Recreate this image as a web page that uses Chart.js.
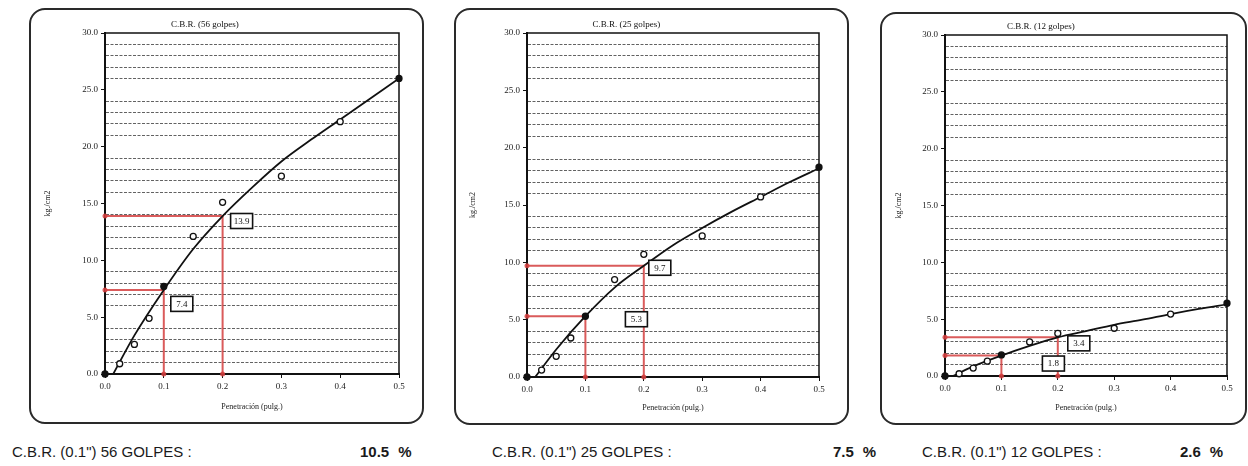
<!DOCTYPE html>
<html>
<head>
<meta charset="utf-8">
<script src="https://cdn.jsdelivr.net/npm/chart.js@4.4.0/dist/chart.umd.min.js"></script>
<style>
  html, body { margin: 0; padding: 0; background: #fff; }
  body { width: 1248px; height: 466px; position: relative; overflow: hidden; }
  .marco { position: absolute; box-sizing: border-box; border: 2px solid #2a2a2a; border-radius: 16px; }
  .lienzo { position: absolute; }
  .pie { position: absolute; font-family: "Liberation Sans", Arial, sans-serif; font-size: 15px; color: #1a1a1a; white-space: nowrap; line-height: 16px; }
  .pie b { font-weight: bold; }
</style>
</head>
<body>

<div class="marco" style="left:29px;top:8px;width:395px;height:416px"></div>
<div class="marco" style="left:454px;top:8px;width:395px;height:417px"></div>
<div class="marco" style="left:880px;top:12px;width:367px;height:413px"></div>

<canvas id="g56" class="lienzo" style="left:30px;top:8px" width="393" height="415"></canvas>
<canvas id="g25" class="lienzo" style="left:455px;top:8px" width="393" height="416"></canvas>
<canvas id="g12" class="lienzo" style="left:881px;top:12px" width="366" height="412"></canvas>

<div class="pie" id="t56" style="left:12px;top:444px"></div>
<div class="pie" id="p56" style="left:360px;top:444px"></div>
<div class="pie" id="t25" style="left:492px;top:444px"></div>
<div class="pie" id="p25" style="left:833px;top:444px"></div>
<div class="pie" id="t12" style="left:922px;top:444px"></div>
<div class="pie" id="p12" style="left:1180px;top:444px"></div>

<script>
// Ensayo CBR: lecturas de carga (kg/cm2) vs penetracion (pulg.)
const penetracion = [0, 0.025, 0.05, 0.075, 0.1, 0.15, 0.2, 0.3, 0.4, 0.5];
const carga56 = [0, 0.9, 2.6, 4.9, 7.7, 12.1, 15.1, 17.4, 22.2, 26.0];
const carga25 = [0, 0.6, 1.8, 3.4, 5.3, 8.5, 10.7, 12.3, 15.7, 18.3];
const carga12 = [0, 0.2, 0.7, 1.3, 1.85, 3.0, 3.75, 4.2, 5.45, 6.4];

// curva ajustada
const curvaX = [0.014, 0.05, 0.1, 0.15, 0.2, 0.25, 0.3, 0.35, 0.4, 0.45, 0.5];
const curva56 = [0, 3.4, 7.4, 11.0, 13.9, 16.4, 18.7, 20.6, 22.4, 24.2, 26.0];
const curva25 = [0, 2.4, 5.3, 7.8, 9.7, 11.5, 13.0, 14.4, 15.7, 17.0, 18.2];
const curva12 = [0, 0.85, 1.8, 2.65, 3.4, 3.95, 4.5, 4.95, 5.45, 5.9, 6.3];

// lecturas a 0.1" y 0.2"
const lecturaX = [0.1, 0.2];
const lectura56 = [7.4, 13.9];
const lectura25 = [5.3, 9.7];
const lectura12 = [1.8, 3.4];

const golpes = [56, 25, 12];
const cbr = ['10.5', '7.5', '2.6'];

const ROJO = 'rgba(212,62,62,0.85)';
Chart.defaults.font.family = '"Liberation Serif", "Times New Roman", serif';
Chart.defaults.color = '#222';

function xy(xs, ys) {
  return xs.map((x, i) => ({ x: x, y: ys[i] }));
}

// recuadro con el valor leido + marco superior/derecho del area
const rotulos = {
  id: 'rotulos',
  afterDatasetsDraw(chart, args, opts) {
    const { ctx, chartArea: a, scales: { x, y } } = chart;
    ctx.save();
    ctx.strokeStyle = '#111';
    ctx.lineWidth = 1.5;
    ctx.beginPath();
    ctx.moveTo(a.left, a.top);
    ctx.lineTo(a.right, a.top);
    ctx.lineTo(a.right, a.bottom);
    ctx.stroke();

    ctx.font = '9px "Liberation Serif", serif';
    ctx.textAlign = 'center';
    ctx.textBaseline = 'middle';
    ctx.fillStyle = '#111';
    ctx.fillText(opts.titulo, a.left + (a.right - a.left) * 0.34, a.top - 8);

    opts.valores.forEach((v, i) => {
      const cx = x.getPixelForValue(lecturaX[i]) + opts.desfase[i][0];
      const cy = y.getPixelForValue(v) + opts.desfase[i][1];
      ctx.fillStyle = '#fff';
      ctx.fillRect(cx - 11, cy - 7.5, 22, 15);
      ctx.lineWidth = 1.6;
      ctx.strokeStyle = '#111';
      ctx.strokeRect(cx - 11, cy - 7.5, 22, 15);
      ctx.fillStyle = '#111';
      ctx.fillText(v.toFixed(1), cx, cy + 0.5);
    });
    ctx.restore();
  }
};

function grafico(id, carga, curva, lectura, titulo, caja, desfase) {
  const guias = lectura.map((v, i) => ({
    data: [{ x: 0, y: v }, { x: lecturaX[i], y: v }, { x: lecturaX[i], y: 0 }],
    showLine: true,
    borderColor: ROJO,
    borderWidth: 2,
    pointRadius: [2.5, 0, 2.5],
    pointBackgroundColor: ROJO,
    pointBorderWidth: 0,
    clip: false,
    order: 3
  }));

  new Chart(document.getElementById(id), {
    type: 'scatter',
    data: {
      datasets: [
        {
          data: xy(penetracion, carga),
          showLine: false,
          pointRadius: 3,
          pointBorderWidth: 1.3,
          pointBorderColor: '#111',
          pointBackgroundColor: penetracion.map((p, i) => (i === 0 || p === 0.1 || p === 0.5) ? '#111' : '#fff'),
          clip: false,
          order: 0
        },
        {
          data: xy(curvaX, curva),
          showLine: true,
          borderColor: '#111',
          borderWidth: 1.8,
          pointRadius: 0,
          cubicInterpolationMode: 'monotone',
          order: 1
        },
        ...guias
      ]
    },
    options: {
      responsive: false,
      animation: false,
      events: [],
      layout: { padding: { left: 0, top: caja.top, right: caja.right, bottom: 0 } },
      plugins: {
        legend: { display: false },
        tooltip: { enabled: false },
        rotulos: { titulo: titulo, valores: lectura, desfase: desfase }
      },
      scales: {
        x: {
          type: 'linear',
          min: 0,
          max: 0.5,
          afterFit: s => { s.height = caja.bottom; },
          ticks: { stepSize: 0.1, font: { size: 9 }, padding: 3, callback: v => v.toFixed(1) },
          grid: { drawOnChartArea: false, tickLength: 4, tickColor: '#111', tickWidth: 1 },
          border: { color: '#111', width: 2 },
          title: { display: true, text: 'Penetración (pulg.)', font: { size: 8 }, padding: { top: 0, bottom: 11 } }
        },
        y: {
          min: 0,
          max: 30,
          afterFit: s => { s.width = caja.left; },
          ticks: {
            stepSize: 1,
            autoSkip: false,
            font: { size: 9 },
            padding: 3,
            callback: v => (Math.round(v) % 5 === 0 ? v.toFixed(1) : '')
          },
          grid: {
            color: c => (c.tick && Math.round(c.tick.value) % 5 === 0) ? 'transparent' : 'rgba(45,45,45,0.75)',
            tickColor: c => (c.tick && Math.round(c.tick.value) % 5 === 0) ? '#111' : 'transparent',
            lineWidth: 1,
            tickLength: 4
          },
          border: { color: '#111', width: 2, dash: [3, 1.5] },
          title: { display: true, text: 'kg./cm2', font: { size: 8 }, padding: { top: 13, bottom: 0 } }
        }
      }
    },
    plugins: [rotulos]
  });
}

grafico('g56', carga56, curva56, lectura56, 'C.B.R. (56 golpes)',
  { left: 75, right: 24, top: 25, bottom: 49 }, [[18, 14], [19, 5]]);
grafico('g25', carga25, curva25, lectura25, 'C.B.R. (25 golpes)',
  { left: 72, right: 29, top: 25, bottom: 47 }, [[51, 3], [16, 2]]);
grafico('g12', carga12, curva12, lectura12, 'C.B.R. (12 golpes)',
  { left: 64, right: 20, top: 23, bottom: 48 }, [[52, 8], [21, 6]]);

golpes.forEach((g, i) => {
  document.getElementById('t' + g).textContent = 'C.B.R. (0.1") ' + g + ' GOLPES :';
  document.getElementById('p' + g).innerHTML = '<b>' + cbr[i] + '</b><b style="margin-left:9px">%</b>';
});
</script>
</body>
</html>
